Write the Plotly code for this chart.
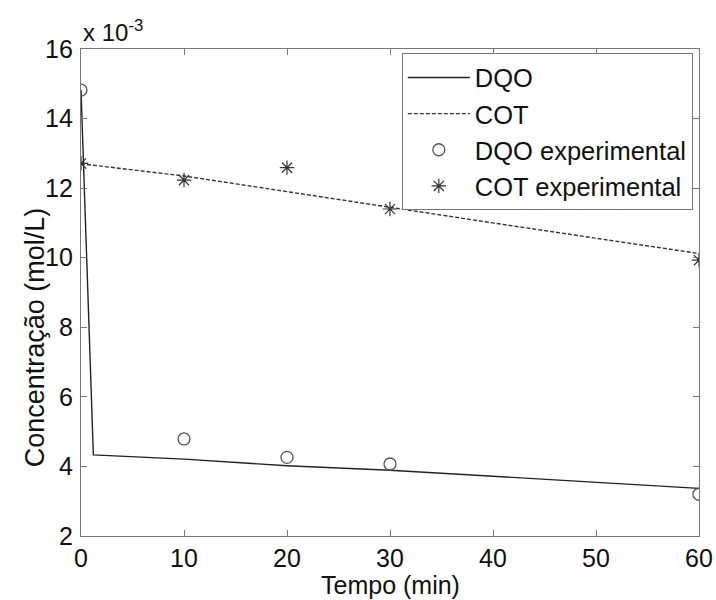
import plotly.graph_objects as go

# Data (concentrations in units of 1e-3 mol/L)
t_model_dqo = [0, 1.2, 10, 20, 30, 40, 50, 60]
dqo_model = [14.82, 4.33, 4.21, 4.02, 3.89, 3.72, 3.55, 3.37]
t_model_cot = [0, 10, 20, 30, 40, 50, 60]
cot_model = [12.70, 12.35, 11.90, 11.44, 11.00, 10.56, 10.12]
t_exp = [0, 10, 20, 30, 60]
dqo_exp = [14.82, 4.79, 4.26, 4.07, 3.20]
cot_exp = [12.71, 12.23, 12.59, 11.40, 9.93]

x_ticks = [0, 10, 20, 30, 40, 50, 60]
y_ticks = [2, 4, 6, 8, 10, 12, 14, 16]

FONT = "Liberation Sans, Arial, Helvetica, sans-serif"

fig = go.Figure()
fig.add_trace(go.Scatter(x=t_model_dqo, y=dqo_model, mode="lines", name="DQO",
                         line=dict(color="#222222", width=1.4)))
fig.add_trace(go.Scatter(x=t_model_cot, y=cot_model, mode="lines", name="COT",
                         line=dict(color="#333333", width=1.4, dash="4px,2px")))
fig.add_trace(go.Scatter(x=t_exp, y=dqo_exp, mode="markers", name="DQO experimental",
                         marker=dict(symbol="circle-open", size=12, color="#555555",
                                     line=dict(width=1.3, color="#555555"))))
fig.add_trace(go.Scatter(x=t_exp, y=cot_exp, mode="markers", name="COT experimental",
                         marker=dict(symbol="asterisk-open", size=12, color="#333333",
                                     line=dict(width=1.2, color="#333333"))))

axis_common = dict(showline=True, linecolor="#777777", linewidth=1.3, mirror="ticks",
                   ticks="inside", ticklen=6, tickcolor="#777777", tickwidth=1,
                   showgrid=False, zeroline=False, automargin=False,
                   tickfont=dict(family=FONT, size=25, color="#111111"))

fig.update_xaxes(range=[0, 60], tickvals=x_ticks, **axis_common)
fig.update_yaxes(range=[2, 16], tickvals=y_ticks, **axis_common, ticklabelstandoff=2)

# Axis titles
fig.add_annotation(x=0.5, y=0, xref="paper", yref="paper", xanchor="center", yanchor="bottom",
                   text="Tempo (min)", showarrow=False, yshift=-65,
                   font=dict(family=FONT, size=25, color="#111111"))
fig.add_annotation(x=-0.075, y=7.7, xref="paper", yref="y", xanchor="center", yanchor="middle",
                   text="Concentração (mol/L)", showarrow=False, textangle=-90,
                   font=dict(family=FONT, size=27, color="#111111"))

fig.add_annotation(x=0, y=1, xref="paper", yref="paper", xanchor="left", yanchor="bottom",
                   text="x 10<sup>-3</sup>", showarrow=False, yshift=1,
                   font=dict(family=FONT, size=24, color="#111111"))

fig.update_layout(
    template="none",
    width=716, height=600,
    margin=dict(l=81, r=17, t=49, b=64),
    paper_bgcolor="white", plot_bgcolor="white",
    showlegend=True,
    legend=dict(x=0.99, y=0.991, xanchor="right", yanchor="top",
                bgcolor="white", bordercolor="#777777", borderwidth=1,
                font=dict(family=FONT, size=25.5, color="#111111"),
                itemwidth=62, tracegroupgap=0),
)

fig.write_html("out.html")
